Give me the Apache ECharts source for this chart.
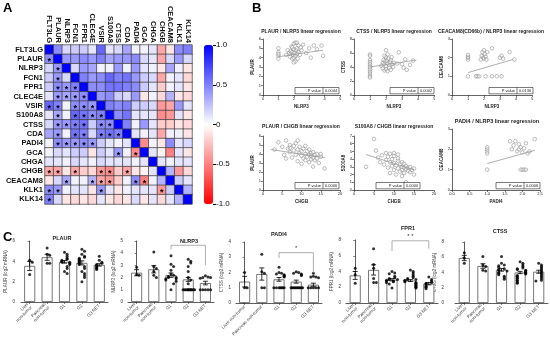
<!DOCTYPE html>
<html>
<head>
<meta charset="utf-8">
<script src="https://cdn.jsdelivr.net/npm/echarts@6.0.0/dist/echarts.min.js"></script>
<style>html,body{margin:0;padding:0;background:#fff;}#chart{width:550px;height:341px;}</style>
</head>
<body>
<div id="chart"></div>
<script>
// ================= DATA =================
// Panel A: correlation matrix (lower triangle, row i holds columns 0..i-1)
const genes = ['FLT3LG','PLAUR','NLRP3','FCN1','FPR1','CLEC4E','VSIR','S100A8','CTSS','CDA','PADI4','GCA','CHGA','CHGB','CEACAM8','KLK1','KLK14'];
const corrLower = [
  [],
  [0.45],
  [0.15,0.40],
  [0.20,0.40,0.15],
  [0.20,0.45,0.40,0.50],
  [0.10,0.40,0.35,0.40,0.45],
  [0.60,0.50,0.05,0.45,0.45,0.40],
  [0.10,0.35,0.05,0.60,0.55,0.45,0.50],
  [0.15,0.40,0.40,0.50,0.55,0.20,0.45,0.45],
  [0.35,0.40,0.05,0.55,0.50,0.15,0.50,0.55,0.50],
  [0.05,0.45,0.40,0.40,0.45,0.40,0.20,0.10,0.05,0.10],
  [0.05,0.15,0.10,0.20,0.20,-0.10,0.20,0.10,0.40,0.05,-0.45],
  [0.10,0.10,0.05,0.15,0.10,0.05,0.15,0.10,0.10,0.10,0.05,0.10],
  [-0.35,-0.35,-0.10,-0.35,-0.20,-0.15,-0.40,-0.45,-0.20,-0.35,-0.10,-0.05,0.10],
  [-0.10,0.15,0.35,0.05,0.05,0.30,-0.35,-0.40,-0.20,0.05,0.45,-0.50,0.05,0.30],
  [0.45,0.40,0.05,0.10,0.10,-0.10,0.40,0.10,-0.10,0.05,0.10,0.10,0.10,-0.40,0.20],
  [0.50,0.15,-0.10,-0.15,-0.10,-0.15,0.10,-0.10,-0.15,-0.10,0.15,-0.10,0.10,-0.15,0.10,0.30]
];
const starLower = [
  [],
  [1],
  [0,1],
  [0,1,0],
  [0,1,1,1],
  [0,1,1,1,1],
  [1,1,0,1,1,1],
  [0,1,0,1,1,1,1],
  [0,1,1,1,1,0,1,1],
  [0,1,0,1,1,0,1,1,1],
  [0,1,1,1,1,1,0,0,0,0],
  [0,0,0,0,0,0,0,0,1,0,1],
  [0,0,0,0,0,0,0,0,0,0,0,0],
  [1,1,0,1,0,0,1,1,0,1,0,0,0],
  [0,0,1,0,0,1,1,1,0,0,1,1,0,0],
  [1,1,0,0,0,0,1,0,0,0,0,0,0,1,0],
  [1,0,0,0,0,0,0,0,0,0,0,0,0,0,0,0]
];
const colorbarRange = [-1, 1];
const colorbarStep = 0.5;

// Panel B: scatter points [x, y] and fitted line end points
const plaurNlrp3 = [[1,4.6],[1,4.2],[1,3.9],[1,5.0],[1,4.4],[1.5,4.3],[1.6,4.8],[1.7,4.5],[1.75,4.1],[1.8,4.7],[1.8,4.4],[1.85,5.2],[1.9,3.9],[1.9,4.6],[1.95,4.3],[2.0,5.5],[2.0,4.0],[2.0,4.9],[2.05,4.5],[2.1,5.6],[2.1,4.2],[2.1,3.6],[2.15,4.8],[2.2,4.4],[2.2,5.0],[2.25,3.9],[2.3,4.6],[2.3,5.3],[2.4,4.3],[2.5,4.8],[2.6,5.4],[2.2,5.6],[1.9,5.1],[2.0,3.5],[2.45,5.1],[3.0,5.0],[3.1,4.0],[3.3,5.3],[3.5,4.9],[3.8,5.3],[3.9,4.2],[2.8,4.5]];
const plaurNlrp3Fit = [[1,4.1],[3.9,4.8]];
const ctssNlrp3 = [[1,5.8],[1,5.6],[1,5.0],[1,4.7],[1,4.4],[1,4.1],[1,3.9],[1,3.6],[1,3.3],[1,3.0],[1,2.7],[1,2.5],[1.7,4.2],[1.8,4.6],[1.8,3.8],[1.85,5.0],[1.9,4.4],[1.9,3.5],[1.95,4.8],[2.0,6.4],[2.0,5.4],[2.0,4.1],[2.0,3.7],[2.05,4.9],[2.1,4.5],[2.1,3.4],[2.15,5.2],[2.2,4.3],[2.2,3.9],[2.25,4.7],[2.3,5.0],[2.3,3.6],[2.4,4.4],[2.45,4.0],[2.5,4.6],[2.1,5.8],[1.9,5.6],[2.35,5.4],[2.8,6.1],[2.7,4.5],[3.0,4.4],[3.2,5.1],[3.3,3.6],[3.5,4.3],[3.7,4.9],[3.1,3.9]];
const ctssNlrp3Fit = [[1,4.0],[3.9,5.0]];
const ceacamNlrp3 = [[1,1.0],[1,1.9],[1,2.0],[1,2.05],[1,2.15],[1.8,1.9],[1.85,2.1],[1.9,2.3],[1.95,2.0],[2.0,2.4],[2.0,1.95],[2.05,2.2],[2.1,2.05],[2.15,1.9],[2.5,2.5],[2.2,2.3],[1.5,1.0],[1.6,1.0],[1.7,1.0],[2.1,1.0],[2.5,1.0],[2.8,1.0],[3.1,1.0],[3.0,2.0],[3.1,2.1],[3.2,1.95],[3.6,2.3],[3.9,1.9]];
const ceacamNlrp3Fit = [[1,1.2],[3.8,1.9]];
const plaurChgb = [[3,4.5],[4,5.3],[5,4.8],[5.5,3.9],[6,5.5],[6.5,4.6],[7,4.2],[7,5.0],[7.5,3.6],[8,4.9],[8,4.4],[8.5,5.2],[8.5,3.9],[9,4.5],[9,3.2],[9.5,4.1],[9.5,4.8],[10,3.8],[10,4.3],[10,2.9],[10.5,4.6],[10.5,3.5],[11,4.0],[11,3.3],[11,4.9],[11.5,3.7],[11.5,4.3],[12,3.1],[12,3.9],[12,4.5],[12.5,3.4],[12.5,4.1],[12.5,3.8],[13,3.6],[13,4.2],[13,2.6],[13.5,3.9],[13.5,3.3],[14,4.0],[14,3.5],[14.5,3.0],[15,4.0],[15,3.7],[16,2.4],[6,3.5],[7,4.7],[9,5.5]];
const plaurChgbFit = [[2,4.5],[16,3.6]];
const s100a8Chgb = [[3,3.0],[5,6.6],[5.5,5.1],[6,4.2],[6.5,3.6],[7,4.5],[7.5,3.3],[8,4.8],[8,3.9],[8.5,2.9],[8.5,4.3],[9,3.6],[9,2.2],[9,4.7],[9.5,3.1],[9.5,4.0],[10,2.6],[10,3.5],[10,4.4],[10.5,3.2],[10.5,2.0],[11,3.8],[11,2.8],[11,4.1],[11.5,3.3],[11.5,2.4],[12,3.0],[12,3.6],[12,2.6],[12.5,2.9],[12.5,3.4],[12.5,2.2],[13,2.7],[13,3.1],[13,1.0],[13.5,2.5],[13.5,2.9],[14,2.3],[14,3.0],[14.5,2.6],[15,2.8],[15,2.0],[10,4.8],[11,4.6],[12,1.8]];
const s100a8ChgbFit = [[3,4.6],[15,2.6]];
const ceacamPadi4 = [[1,1.0],[1,1.8],[1,1.9],[1,2.0],[1,2.1],[1.7,2.0],[1.75,2.2],[1.8,2.4],[1.85,1.9],[1.9,2.25],[1.9,2.0],[1.95,2.1],[2.0,1.85],[2.05,2.05],[2.1,2.3],[2.15,1.8],[2.35,2.5],[1.95,1.0],[2.0,1.0],[2.05,1.0],[2.1,1.0],[2.2,1.9],[1.65,2.4]];
const ceacamPadi4Fit = [[1,1.3],[2.35,1.95]];
const scatterTitles = ['PLAUR / NLRP3 linear regression','CTSS / NLRP3 linear regression','CEACAM8(CD66b) / NLRP3 linear regression','PLAUR / CHGB linear regression','S100A8 / CHGB linear regression','PADI4 / NLRP3 linear regression'];
const scatterXNames = ['NLRP3','NLRP3','NLRP3','CHGB','CHGB','PADI4'];
const scatterYNames = ['PLAUR','CTSS','CEACAM8','PLAUR','S100A8','CEACAM8'];
const scatterXRanges = [[0,5,1],[0,5,1],[0,5,1],[0,20,5],[0,20,5],[0,2.5,0.5]];
const scatterYRanges = [[0,6,1],[0,8,2],[0,3,1],[0,6,1],[0,7,1],[0,3,1]];
const pValues = ['0.0044','0.0002','0.0136','0.0006','0.0000','0.0006'];

// Panel C: group labels, individual values, means and SEM
const groupsTwoLine = ['Liver\nnon-tumor','Pancreas\nnon-tumor','G1','G2','G3 NET'];
const groupsOneLine = ['Liver non-tumor','Pancreas non-tumor','G1','G2','G3 NET'];
const barTitles = ['PLAUR','NLRP3','PADI4','FPR1','CTSS'];
const barYNames = ['PLAUR (log2 mRNA)','NLRP3 (log2 mRNA)','CTSS (log2 mRNA)','FPR1 (log2 mRNA)','CTSS (log2 mRNA)'];
const barYRanges = [[0,6,2],[0,5,1],[0,4,1],[0,8,2],[0,8,2]];
const plaurDots = [[4.1,3.9,2.7],[5.3,4.7,4.6,3.8,3.8],[4.9,4.7,4.5,4.3,4.2,4.1,4.0,3.9,3.9,3.8,3.7,3.5,3.3,3.0,2.8],[5.2,5.0,4.7,4.5,4.4,4.3,4.2,4.1,4.0,3.9,3.8,3.7,3.5,3.3,3.0,2.8,2.6,2.4,2.0],[4.5,4.1,3.9,3.8,3.7,3.6,3.5,3.4,3.3,3.2]];
const plaurMean = [3.55,4.4,3.95,3.85,3.65];
const plaurSem = [0.45,0.3,0.13,0.2,0.12];
const nlrp3Dots = [[2.85,2.25,2.2],[4.1,2.9,2.75,2.5,2.2,2.0],[3.8,3.1,2.9,2.6,2.3,2.2,2.1,2.0,2.0,1.9,1.9,1.8,1.7,1.5,1.0],[3.5,3.35,3.2,2.9,2.5,2.0,1.8,1.5,1.0,1.0,1.0,1.0,1.0,1.0,1.0,1.0,1.0,1.0,1.0,1.0],[2.15,2.05,2.0,2.0,1.95,1.0,1.0,1.0,1.0,1.0]];
const nlrp3Mean = [2.4,2.68,2.2,1.85,1.55];
const nlrp3Sem = [0.25,0.3,0.18,0.16,0.15];
const padi4Dots = [[2.0,1.0,1.0],[3.2,2.05,1.95,1.0,1.0],[2.35,2.0,1.95,1.9,1.85,1.8,1.75,1.7,1.0,1.0,1.0,1.0,1.0,1.0,1.0],[2.05,2.0,1.95,1.9,1.85,1.8,1.0,1.0,1.0,1.0,1.0,1.0,1.0,1.0,1.0,1.0],[1.95,1.75,1.7,1.7,1.65,1.0,1.0,1.0,1.0,1.0]];
const padi4Mean = [1.4,1.9,1.55,1.4,1.2];
const padi4Sem = [0.35,0.4,0.12,0.1,0.1];
const fpr1Dots = [[4.4,3.6,2.5],[6.9,4.9,4.4,3.1,2.6,2.6],[4.0,3.8,3.7,3.4,3.2,3.1,3.0,3.0,2.9,2.8,2.8,2.7,2.6,2.4,1.9],[4.2,4.0,3.8,3.6,3.4,3.2,3.1,3.0,3.0,2.9,2.8,2.7,2.6,2.5,2.4,2.3,2.2,2.1,2.0,1.9],[3.3,3.0,2.8,2.6,2.5,2.4,2.2,2.1,2.0,1.8]];
const fpr1Mean = [3.5,4.2,2.95,2.85,2.45];
const fpr1Sem = [0.5,0.65,0.15,0.12,0.15];
const ctssDots = [[6.6,5.9,5.2],[6.1,5.0,4.8,4.3,4.2],[6.1,5.2,5.0,4.9,4.7,4.5,4.4,4.3,4.2,4.0,3.9,3.7,3.5,3.3,3.1],[5.4,5.2,5.0,4.8,4.6,4.5,4.4,4.3,4.2,4.1,4.0,3.9,3.8,3.6,3.5,3.3,3.2,3.0,2.9,2.7,2.6],[5.2,5.0,4.8,4.6,4.4,4.2,4.0,3.8,3.6,3.4,3.2,3.0,2.9]];
const ctssMean = [5.9,4.85,4.35,4.0,4.1];
const ctssSem = [0.35,0.3,0.18,0.15,0.2];
// significance brackets: [fromGroup, toGroup, topValue, leftLegEnd, rightLegEnd]
const nlrp3Sig = [[2,4,4.65,4.3,3.0]];
const padi4Sig = [[2,4,3.3,2.95,2.0]];
const fpr1Sig = [[2,4,7.9,6.6,6.9]];
const sigLabels = ['*','*','* *'];

// ================= LAYOUT =================
const FONT = 'Liberation Sans, Arial, Helvetica, sans-serif';
const heatBox = {left:45, top:45, width:147, height:159};
const cbBox = {left:204, top:45, width:9, height:159};
const scatterBoxes = [
  {left:263, top:39, width:77, height:56, boxRight:339, titleX:301, titleY:32, fs:5},
  {left:354, top:39, width:80, height:56, boxRight:434, titleX:394, titleY:32, fs:5},
  {left:452, top:39, width:80, height:56, boxRight:533, titleX:491, titleY:32, fs:5},
  {left:263, top:136, width:77, height:54, boxRight:339, titleX:301, titleY:127, fs:5},
  {left:354, top:136, width:80, height:54, boxRight:420, titleX:394, titleY:127, fs:5},
  {left:452, top:129, width:88, height:61, boxRight:540, titleX:497, titleY:121, fs:5.5}
];
const barBoxes = [
  {left:21, top:241, width:87, height:61, offset:4, titleX:62, titleY:238},
  {left:128, top:241, width:86, height:61, offset:3, titleX:189, titleY:241},
  {left:236, top:242, width:86, height:61, offset:3, titleX:279, titleY:234},
  {left:346, top:240, width:92, height:63, offset:3, titleX:408, titleY:228},
  {left:455, top:242, width:93, height:61, offset:9, titleX:500, titleY:231}
];

// ================= BUILD =================
const grids = [], xAxes = [], yAxes = [], series = [], graphics = [];

// ---- Panel A heatmap ----
const heatData = [];
for (let r = 0; r < genes.length; r++) {
  for (let c = 0; c < genes.length; c++) {
    let v, s = 0;
    if (r === c) v = 1;
    else if (r > c) { v = corrLower[r][c]; s = starLower[r][c]; }
    else v = corrLower[c][r];
    heatData.push([c, r, v, s]);
  }
}
grids.push(Object.assign({}, heatBox));
xAxes.push({type:'category', gridIndex:0, data:genes, position:'top',
  axisLine:{show:false}, axisTick:{show:false}, splitArea:{show:false},
  axisLabel:{rotate:90, interval:0, fontSize:7.5, fontWeight:'bold', color:'#111', margin:2, fontFamily:FONT}});
yAxes.push({type:'category', gridIndex:0, data:genes, inverse:true,
  axisLine:{show:false}, axisTick:{show:false}, splitArea:{show:false},
  axisLabel:{interval:0, fontSize:7.5, fontWeight:'bold', color:'#111', margin:2, fontFamily:FONT}});
series.push({type:'heatmap', xAxisIndex:0, yAxisIndex:0, data:heatData,
  itemStyle:{borderColor:'#3a3a3a', borderWidth:0.7},
  label:{show:true, formatter:p => p.value[3] ? '*' : '', fontSize:9, fontWeight:'bold', color:'#000', offset:[0,2.5], fontFamily:FONT},
  emphasis:{disabled:true}, silent:true});

// colour bar axis
grids.push(Object.assign({}, cbBox));
xAxes.push({type:'category', gridIndex:1, data:['c'], show:false});
yAxes.push({type:'value', gridIndex:1, min:colorbarRange[0], max:colorbarRange[1], interval:colorbarStep, position:'right',
  axisLine:{show:false}, splitLine:{show:false},
  axisTick:{show:true, length:3, lineStyle:{color:'#000', width:1}},
  axisLabel:{fontSize:8, color:'#111', margin:3, fontFamily:FONT, formatter:v => v === 0 ? '0' : v.toFixed(1)}});
series.push({type:'scatter', xAxisIndex:1, yAxisIndex:1, data:[], silent:true});

// ---- Panel B scatter plots ----
const scatterSets = [plaurNlrp3, ctssNlrp3, ceacamNlrp3, plaurChgb, s100a8Chgb, ceacamPadi4];
const scatterFits = [plaurNlrp3Fit, ctssNlrp3Fit, ceacamNlrp3Fit, plaurChgbFit, s100a8ChgbFit, ceacamPadi4Fit];
const axisCol = '#222';
scatterSets.forEach((pts, i) => {
  const L = scatterBoxes[i];
  const gi = grids.length;
  grids.push({left:L.left, top:L.top, width:L.width, height:L.height});
  const xi = xAxes.length, yi = yAxes.length;
  const xr = scatterXRanges[i], yr = scatterYRanges[i];
  xAxes.push({type:'value', gridIndex:gi, min:xr[0], max:xr[1], interval:xr[2],
    name:scatterXNames[i], nameLocation:'middle', nameGap:9,
    nameTextStyle:{fontSize:4.5, fontWeight:'bold', color:axisCol, fontFamily:FONT},
    axisLine:{onZero:false, lineStyle:{color:axisCol, width:0.7}},
    axisTick:{length:2, lineStyle:{color:axisCol, width:0.6}},
    axisLabel:{fontSize:4, color:axisCol, margin:2, fontFamily:FONT, formatter: xr[2] < 1 ? (v => v.toFixed(1)) : (v => String(v))},
    splitLine:{show:false}});
  yAxes.push({type:'value', gridIndex:gi, min:yr[0], max:yr[1], interval:yr[2],
    name:scatterYNames[i], nameLocation:'middle', nameGap:7,
    nameTextStyle:{fontSize:4.5, fontWeight:'bold', color:axisCol, fontFamily:FONT},
    axisLine:{show:true, onZero:false, lineStyle:{color:axisCol, width:0.7}},
    axisTick:{show:true, length:2, lineStyle:{color:axisCol, width:0.6}},
    axisLabel:{fontSize:4, color:axisCol, margin:2, fontFamily:FONT},
    splitLine:{show:false}});
  series.push({type:'scatter', xAxisIndex:xi, yAxisIndex:yi, data:pts, symbol:'circle', symbolSize:3.6,
    itemStyle:{color:'rgba(255,255,255,0.4)', borderColor:'#8a8a8a', borderWidth:0.7}, silent:true});
  series.push({type:'line', xAxisIndex:xi, yAxisIndex:yi, data:scatterFits[i], symbol:'none',
    lineStyle:{color:'#9a9a9a', width:0.8}, silent:true, z:3});
  // title
  graphics.push({type:'text', x:L.titleX, y:L.titleY, z:50,
    style:{text:scatterTitles[i], align:'center', verticalAlign:'middle', fontSize:L.fs, fontWeight:'bold', fontFamily:FONT, fill:'#222'}});
  // P value table
  const bw = 44, bh = 6.3, split = 28;
  const bx = L.boxRight - bw, by = L.top + L.height - bh - 1.2;
  graphics.push({type:'rect', z:60, shape:{x:bx, y:by, width:bw, height:bh}, style:{fill:'#fff', stroke:'#222', lineWidth:0.6}});
  graphics.push({type:'line', z:61, shape:{x1:bx+split, y1:by, x2:bx+split, y2:by+bh}, style:{stroke:'#222', lineWidth:0.6}});
  graphics.push({type:'text', z:62, x:bx+split-2, y:by+bh/2+0.3, style:{text:'P value', align:'right', verticalAlign:'middle', fontSize:4, fontFamily:FONT, fill:'#222'}});
  graphics.push({type:'text', z:62, x:bx+split+(bw-split)/2, y:by+bh/2+0.3, style:{text:pValues[i], align:'center', verticalAlign:'middle', fontSize:4, fontFamily:FONT, fill:'#222'}});
});

// ---- Panel C bar charts ----
function swarmOffsets(vals, thr, step) {
  const placed = [];
  const seq = [0, 1, -1, 2, -2];
  return vals.map(v => {
    const n = placed.filter(p => Math.abs(p - v) < thr).length;
    placed.push(v);
    return seq[n % 5] * step + (Math.floor(n / 5) % 2 ? step / 2 : 0);
  });
}
const barDots = [plaurDots, nlrp3Dots, padi4Dots, fpr1Dots, ctssDots];
const barMeans = [plaurMean, nlrp3Mean, padi4Mean, fpr1Mean, ctssMean];
const barSems = [plaurSem, nlrp3Sem, padi4Sem, fpr1Sem, ctssSem];
const barSigs = [[], nlrp3Sig, padi4Sig, fpr1Sig, []];
const barSigLabel = [null, sigLabels[0], sigLabels[1], sigLabels[2], null];
const barCats = [groupsTwoLine, groupsTwoLine, groupsOneLine, groupsTwoLine, groupsTwoLine];
const dark = '#333';

barDots.forEach((groups, ci) => {
  const L = barBoxes[ci];
  const yr = barYRanges[ci];
  const gi = grids.length;
  grids.push({left:L.left, top:L.top, width:L.width, height:L.height});
  const xa = xAxes.length;
  xAxes.push({type:'category', gridIndex:gi, data:barCats[ci],
    axisLine:{lineStyle:{color:dark, width:0.8}},
    axisTick:{show:true, length:2, alignWithLabel:true, lineStyle:{color:dark, width:0.6}},
    axisLabel:{rotate:45, interval:0, fontSize:4.5, lineHeight:5, color:'#444', margin:3, fontFamily:FONT}});
  const xv = xAxes.length;
  xAxes.push({type:'value', gridIndex:gi, min:-0.5, max:barCats[ci].length - 0.5, show:false});
  const ya = yAxes.length;
  yAxes.push({type:'value', gridIndex:gi, min:yr[0], max:yr[1], interval:yr[2], offset:L.offset,
    name:barYNames[ci], nameLocation:'middle', nameGap:9,
    nameTextStyle:{fontSize:4.5, color:'#444', fontFamily:FONT},
    axisLine:{show:true, lineStyle:{color:dark, width:0.8}},
    axisTick:{show:true, length:2, lineStyle:{color:dark, width:0.6}},
    axisLabel:{fontSize:4.5, color:'#333', margin:2, fontFamily:FONT},
    splitLine:{show:false}});
  series.push({type:'bar', xAxisIndex:xa, yAxisIndex:ya, data:barMeans[ci], barWidth:11,
    itemStyle:{color:'#fff', borderColor:'#555', borderWidth:0.8}, silent:true, z:2});
  const pxPerUnit = L.height / (yr[1] - yr[0]);
  const dotData = [];
  groups.forEach((vals, g) => {
    const offs = swarmOffsets(vals, 2.8 / pxPerUnit, 0.15);
    vals.forEach((v, k) => dotData.push([g + offs[k], v]));
  });
  series.push({type:'scatter', xAxisIndex:xv, yAxisIndex:ya, data:dotData, symbol:'circle', symbolSize:3,
    itemStyle:{color:'#000'}, silent:true, z:3});
  series.push({type:'custom', xAxisIndex:xv, yAxisIndex:ya, silent:true, z:4,
    data:barMeans[ci].map((m, g) => [g, m, barSems[ci][g]]),
    encode:{x:0, y:1},
    renderItem:(params, api) => {
      const x = api.value(0), m = api.value(1), s = api.value(2);
      const t = api.coord([x, m + s]), b = api.coord([x, m - s]);
      const st = {stroke:'#000', lineWidth:0.8};
      return {type:'group', children:[
        {type:'line', shape:{x1:t[0], y1:t[1], x2:b[0], y2:b[1]}, style:st},
        {type:'line', shape:{x1:t[0]-2.5, y1:t[1], x2:t[0]+2.5, y2:t[1]}, style:st},
        {type:'line', shape:{x1:b[0]-2.5, y1:b[1], x2:b[0]+2.5, y2:b[1]}, style:st}
      ]};
    }});
  if (barSigs[ci].length) {
    const lab = barSigLabel[ci];
    series.push({type:'custom', xAxisIndex:xv, yAxisIndex:ya, silent:true, z:5, clip:false,
      data:barSigs[ci], encode:{x:0, y:2},
      renderItem:(params, api) => {
        const f = api.value(0), t = api.value(1), top = api.value(2), le = api.value(3), re = api.value(4);
        const p1 = api.coord([f, le]), p2 = api.coord([f, top]), p3 = api.coord([t, top]), p4 = api.coord([t, re]);
        return {type:'group', children:[
          {type:'polyline', shape:{points:[p1, p2, p3, p4]}, style:{stroke:'#9a9a9a', lineWidth:0.8, fill:null}},
          {type:'text', x:(p2[0] + p3[0]) / 2, y:p2[1] - 1, style:{text:lab, align:'center', verticalAlign:'bottom', fontSize:6, fontFamily:FONT, fill:'#333'}}
        ]};
      }});
  }
  graphics.push({type:'text', x:L.titleX, y:L.titleY, z:50,
    style:{text:barTitles[ci], align:'center', verticalAlign:'middle', fontSize:5.5, fontWeight:'bold', fontFamily:FONT, fill:'#222'}});
});

// panel letters
[['A', 3, 2], ['B', 252, 2], ['C', 3, 231]].forEach(a => {
  graphics.push({type:'text', x:a[1], y:a[2], z:50, style:{text:a[0], align:'left', verticalAlign:'top', fontSize:13, fontWeight:'bold', fontFamily:FONT, fill:'#000'}});
});

const option = {
  animation:false,
  backgroundColor:'#fff',
  textStyle:{fontFamily:FONT},
  grid:grids,
  xAxis:xAxes,
  yAxis:yAxes,
  visualMap:[{type:'continuous', min:colorbarRange[0], max:colorbarRange[1], seriesIndex:0, dimension:2,
    show:true, left:cbBox.left, top:cbBox.top, itemWidth:cbBox.width, itemHeight:cbBox.height, padding:0,
    calculable:false, hoverLink:false, text:null,
    inRange:{color:['#ff0000','#ffffff','#0000ff']}}],
  series:series,
  graphic:graphics
};
const chart = echarts.init(document.getElementById('chart'), null, {renderer:'canvas'});
chart.setOption(option);
</script>
</body>
</html>
